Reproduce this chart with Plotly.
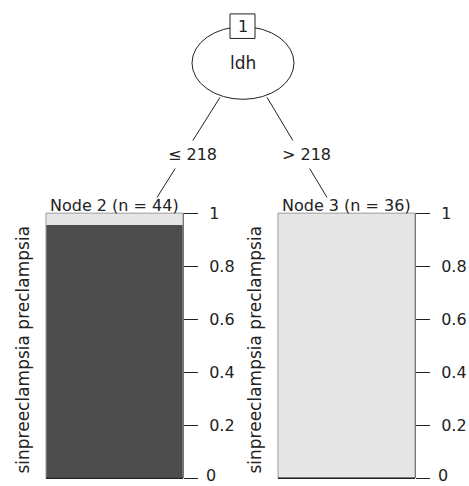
import plotly.graph_objects as go

# ---------------- data ----------------
levels = ["sinpreeclampsia", "preclampsia"]
level_colors = ["#4D4D4D", "#E6E6E6"]
node_ids = [2, 3]
node_n = [44, 36]
prop_sinpreeclampsia = [0.955, 0.0]
prop_preclampsia = [0.045, 1.0]
split_node = 1
split_var = "ldh"
split_labels = ["\u2264 218", "> 218"]
tick_vals = [0, 0.2, 0.4, 0.6, 0.8, 1]
tick_text = ["0", "0.2", "0.4", "0.6", "0.8", "1"]

props = {"sinpreeclampsia": prop_sinpreeclampsia, "preclampsia": prop_preclampsia}

# ---------------- layout helpers ----------------
W, H = 469, 486
FONT = "DejaVu Sans"
TXT = "#222222"


def px(x):
    return x / W


def py(y):
    return 1 - y / H


panels = [(46, 183), (278, 415)]
bar_top, bar_bottom = 208, 478

fig = go.Figure()
axis_names = [("x", "y"), ("x2", "y2")]
for i, node in enumerate(node_ids):
    xa, ya = axis_names[i]
    for lev, col in zip(levels, level_colors):
        fig.add_trace(go.Bar(
            x=[0], y=[props[lev][i]], width=1, name=lev,
            marker=dict(color=col, line=dict(width=0)),
            xaxis=xa, yaxis=ya, showlegend=False, hoverinfo="skip",
        ))

layout_axes = {}
for i, (x0, x1) in enumerate(panels):
    sfx = "" if i == 0 else str(i + 1)
    layout_axes["xaxis" + sfx] = dict(
        domain=[px(x0), px(x1)], range=[-0.5, 0.5], anchor="y" + sfx,
        showticklabels=False, ticks="", showgrid=False, zeroline=False,
        showline=False, fixedrange=True,
    )
    layout_axes["yaxis" + sfx] = dict(
        domain=[py(bar_bottom), py(bar_top)], range=[0, 1], anchor="x" + sfx,
        side="right", ticks="outside", ticklen=14, tickwidth=1, tickcolor=TXT,
        showline=True, linecolor="#555555", linewidth=1,
        tickvals=tick_vals, ticktext=tick_text, ticklabelstandoff=8,
        tickfont=dict(family=FONT, size=16, color=TXT),
        showgrid=False, zeroline=False, fixedrange=True,
    )

shapes = []
# panel outlines and bottom baseline
for (x0, x1) in panels:
    shapes.append(dict(type="rect", xref="paper", yref="paper",
                       x0=px(x0), x1=px(x1), y0=py(bar_bottom), y1=py(bar_top),
                       line=dict(color="#9a9a9a", width=1), layer="above"))
    shapes.append(dict(type="line", xref="paper", yref="paper",
                       x0=px(x0), x1=px(x1), y0=py(bar_bottom), y1=py(bar_bottom),
                       line=dict(color=TXT, width=1.5), layer="above"))
# edges
shapes.append(dict(type="line", xref="paper", yref="paper",
                   x0=px(220), y0=py(90), x1=px(157), y1=py(192),
                   line=dict(color=TXT, width=1)))
shapes.append(dict(type="line", xref="paper", yref="paper",
                   x0=px(267), y0=py(90), x1=px(327), y1=py(192),
                   line=dict(color=TXT, width=1)))
# inner node ellipse and id box
shapes.append(dict(type="circle", xref="paper", yref="paper",
                   x0=px(192), x1=px(294), y0=py(92), y1=py(18),
                   line=dict(color=TXT, width=1), fillcolor="white"))
shapes.append(dict(type="rect", xref="paper", yref="paper",
                   x0=px(230), x1=px(255), y0=py(30), y1=py(5),
                   line=dict(color=TXT, width=1), fillcolor="white"))

annotations = []


def txt(s, x, y, size=16, angle=0, bg=None, pad=1):
    d = dict(text=s, x=px(x), y=py(y), xref="paper", yref="paper",
             showarrow=False, xanchor="center", yanchor="middle",
             font=dict(family=FONT, size=size, color=TXT), textangle=angle,
             borderpad=pad)
    if bg:
        d["bgcolor"] = bg
    annotations.append(d)


txt(str(split_node), 242.5, 17.5)
txt(split_var, 243, 55, size=17)
txt(split_labels[0], 192, 148, bg="white", pad=4)
txt(split_labels[1], 306, 148, bg="white", pad=4)
for i, node in enumerate(node_ids):
    x0, x1 = panels[i]
    txt(f"Node {node} (n = {node_n[i]})", (x0 + x1) / 2, 200)
    txt(" ".join(levels), x0 - 23, 347, size=17, angle=-90)
    # bottom tick label drawn as text so it is never auto-hidden
    txt(tick_text[0], x1 + 14 + 8 + 6, bar_bottom - 3, pad=0)

fig.update_layout(
    width=W, height=H, margin=dict(l=0, r=0, t=0, b=0),
    paper_bgcolor="white", plot_bgcolor="white",
    barmode="stack", bargap=0, showlegend=False,
    shapes=shapes, annotations=annotations, **layout_axes,
)

fig.write_html("out.html", config={"displayModeBar": False})
